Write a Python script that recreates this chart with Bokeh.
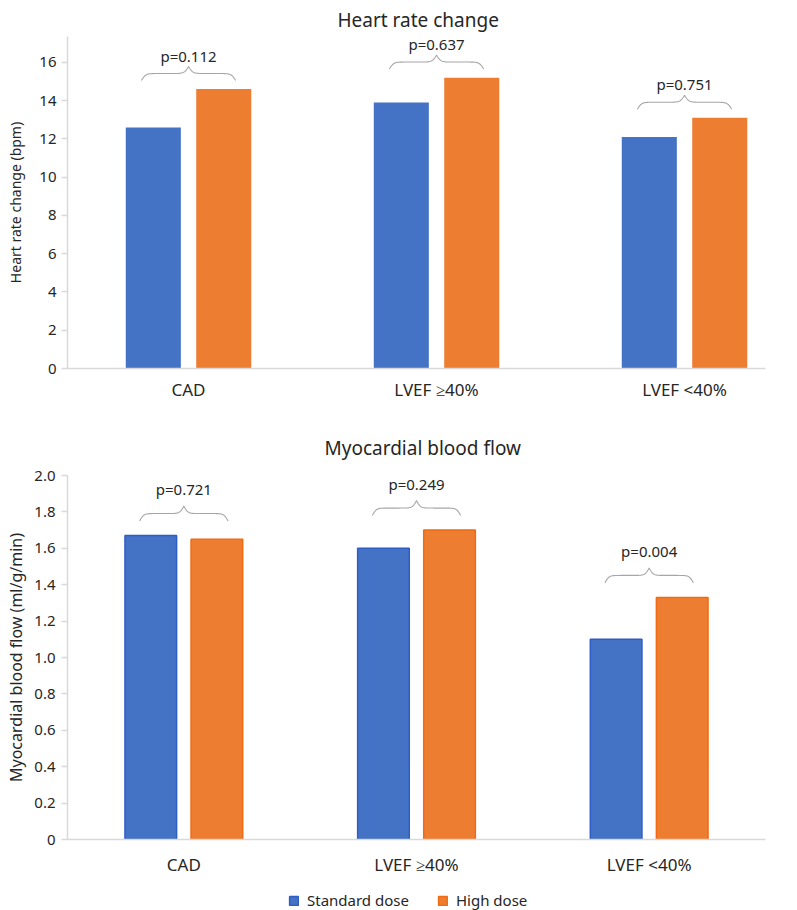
import numpy as np
from bokeh.plotting import figure
from bokeh.models import (ColumnDataSource, Range1d, FixedTicker, LabelSet,
                          Legend, LegendItem)
from bokeh.core.properties import value
from bokeh.layouts import column
from bokeh.embed import file_html
from bokeh.resources import INLINE

# ---------------- data ----------------
categories = ["CAD", "LVEF \u226540%", "LVEF <40%"]
series = ["Standard dose", "High dose"]

hr_standard = [12.6, 13.9, 12.1]
hr_high = [14.6, 15.2, 13.1]
hr_pvalues = ["p=0.112", "p=0.637", "p=0.751"]
hr_ticks = [0, 2, 4, 6, 8, 10, 12, 14, 16]

mbf_standard = [1.67, 1.60, 1.10]
mbf_high = [1.65, 1.70, 1.33]
mbf_pvalues = ["p=0.721", "p=0.249", "p=0.004"]
mbf_ticks = [0.0, 0.2, 0.4, 0.6, 0.8, 1.0, 1.2, 1.4, 1.6, 1.8, 2.0]

BLUE = "#4472C4"
ORANGE = "#ED7D31"
BLUE_EDGE = "#2F5DC6"
ORANGE_EDGE = "#F26A12"
AXIS_GREY = "#d9d9d9"
BRACE_GREY = "#a6a6a6"
TEXT = "#262626"
FONT = "Noto Sans"


def brace_path(xc, halfw, y0, h, beta=22.0, n=80):
    u = np.linspace(0.0, 1.0, n)
    hb = 1.0 / (1.0 + np.exp(-beta * u)) + 1.0 / (1.0 + np.exp(-beta * (u - 1.0)))
    yy = y0 + (hb - 0.5) * h
    xs = np.concatenate([xc - halfw * (1.0 - u), xc + halfw * u[1:]])
    ys = np.concatenate([yy, yy[::-1][1:]])
    return list(xs), list(ys)


def make_chart(title, ylabel, std, high, pvals, ticks, yend, xrange_,
               height, bt, bb, brace_gap, brace_h, text_off,
               title_offset, title_standoff, tick_fmt, edges,
               xlabel_standoff, ylabel_size, ytick_out, ytick_standoff,
               ylabel_standoff):
    p = figure(width=797, height=height, x_range=Range1d(*xrange_),
               y_range=Range1d(0, yend), output_backend="svg",
               toolbar_location=None, min_border_left=67, min_border_right=32,
               min_border_top=bt, min_border_bottom=bb)
    p.outline_line_color = None
    p.xgrid.visible = False
    p.ygrid.visible = False

    # title
    p.title.text = title
    p.title.align = "left"
    p.title.offset = title_offset
    p.title.standoff = title_standoff
    p.title.text_font = FONT
    p.title.text_font_size = "19px"
    p.title.text_font_style = "normal"
    p.title.text_color = TEXT

    centers = [i + 0.5 for i in range(len(categories))]
    off = 0.142
    bw = 0.222
    src = ColumnDataSource(dict(
        x_std=[c - off for c in centers],
        x_high=[c + off for c in centers],
        std=std, high=high))
    if edges:
        p.vbar(x="x_std", top="std", width=bw, source=src,
               fill_color=BLUE, line_color=BLUE_EDGE, line_width=1.5)
        p.vbar(x="x_high", top="high", width=bw, source=src,
               fill_color=ORANGE, line_color=ORANGE_EDGE, line_width=1.5)
    else:
        p.vbar(x="x_std", top="std", width=bw, source=src,
               fill_color=BLUE, line_color=None)
        p.vbar(x="x_high", top="high", width=bw, source=src,
               fill_color=ORANGE, line_color=None)

    # braces with p-values
    bxs, bys, tx, ty = [], [], [], []
    for c, a, b in zip(centers, std, high):
        y0 = max(a, b) + brace_gap
        xs, ys = brace_path(c, 0.19, y0, brace_h)
        bxs.append(xs)
        bys.append(ys)
        tx.append(c)
        ty.append(y0 + brace_h)
    p.multi_line(xs=bxs, ys=bys, line_color=BRACE_GREY, line_width=1.1)
    lab_src = ColumnDataSource(dict(x=tx, y=ty, text=pvals))
    p.add_layout(LabelSet(x="x", y="y", text="text", source=lab_src,
                          text_align="center", text_baseline="bottom",
                          y_offset=text_off, text_font=value(FONT),
                          text_font_size=value("15px"),
                          text_color=value(TEXT)))

    # x axis
    xa = p.xaxis[0]
    xa.ticker = FixedTicker(ticks=centers)
    xa.major_label_overrides = {c: lab for c, lab in zip(centers, categories)}
    xa.axis_line_color = AXIS_GREY
    xa.axis_line_width = 1.5
    xa.major_tick_line_color = None
    xa.minor_tick_line_color = None
    xa.major_label_text_font = FONT
    xa.major_label_text_font_size = "17px"
    xa.major_label_text_color = TEXT
    xa.major_label_standoff = xlabel_standoff

    # y axis
    ya = p.yaxis[0]
    ya.ticker = FixedTicker(ticks=ticks)
    ya.major_label_overrides = {t: tick_fmt(t) for t in ticks}
    ya.axis_line_color = AXIS_GREY
    ya.axis_line_width = 1.5
    ya.major_tick_line_color = AXIS_GREY
    ya.major_tick_line_width = 1.5
    ya.major_tick_out = ytick_out
    ya.major_tick_in = 0
    ya.minor_tick_line_color = None
    ya.major_label_text_font = FONT
    ya.major_label_text_font_size = "15px"
    ya.major_label_text_color = TEXT
    ya.major_label_standoff = ytick_standoff
    ya.axis_label = ylabel
    ya.axis_label_text_font = FONT
    ya.axis_label_text_font_size = ylabel_size
    ya.axis_label_text_font_style = "normal"
    ya.axis_label_text_color = TEXT
    ya.axis_label_standoff = ylabel_standoff
    return p, src


p1, _ = make_chart(
    "Heart rate change", "Heart rate change (bpm)", hr_standard, hr_high,
    hr_pvalues, hr_ticks, 17.35, (0.012, 0.012 + 698 / 248), 418, 36, 50,
    0.45, 0.73, 1, 270, 8, lambda t: str(int(t)), False, 3, "14px",
    6, 5, 11)

p2, src2 = make_chart(
    "Myocardial blood flow", "Myocardial blood flow (ml/g/min)", mbf_standard,
    mbf_high, mbf_pvalues, mbf_ticks, 2.0, (0, 3), 462, 57, 41,
    0.08, 0.082, 7, 257, 29,
    lambda t: "0" if t == 0 else "%.1f" % t, True, 7, "16px",
    6, 6, 4)

# legend strip (swatches taken from hidden copies of the lower chart's bars)
p3 = figure(width=797, height=30, x_range=Range1d(0, 3), y_range=Range1d(0, 2),
            x_axis_type=None, y_axis_type=None, output_backend="svg",
            toolbar_location=None, min_border_left=67, min_border_right=32,
            min_border_top=0, min_border_bottom=0)
p3.outline_line_color = None
p3.xgrid.visible = False
p3.ygrid.visible = False
sw_std = p3.vbar(x="x_std", top="std", width=0.222, source=src2,
                 fill_color=BLUE, line_color=BLUE_EDGE, line_width=1.5,
                 visible=False)
sw_high = p3.vbar(x="x_high", top="high", width=0.222, source=src2,
                  fill_color=ORANGE, line_color=ORANGE_EDGE, line_width=1.5,
                  visible=False)
legend = Legend(items=[LegendItem(label=series[0], renderers=[sw_std]),
                       LegendItem(label=series[1], renderers=[sw_high])],
                location=(221, 0), orientation="horizontal",
                glyph_width=11, glyph_height=11, label_standoff=8, spacing=28,
                label_height=18, padding=0, margin=0, border_line_color=None,
                background_fill_alpha=0, inactive_fill_alpha=0,
                label_text_font=FONT, label_text_font_size="15px",
                label_text_color=TEXT)
p3.add_layout(legend)

layout = column(p1, p2, p3, spacing=0)
open("out.html", "w").write(file_html(layout, INLINE))
